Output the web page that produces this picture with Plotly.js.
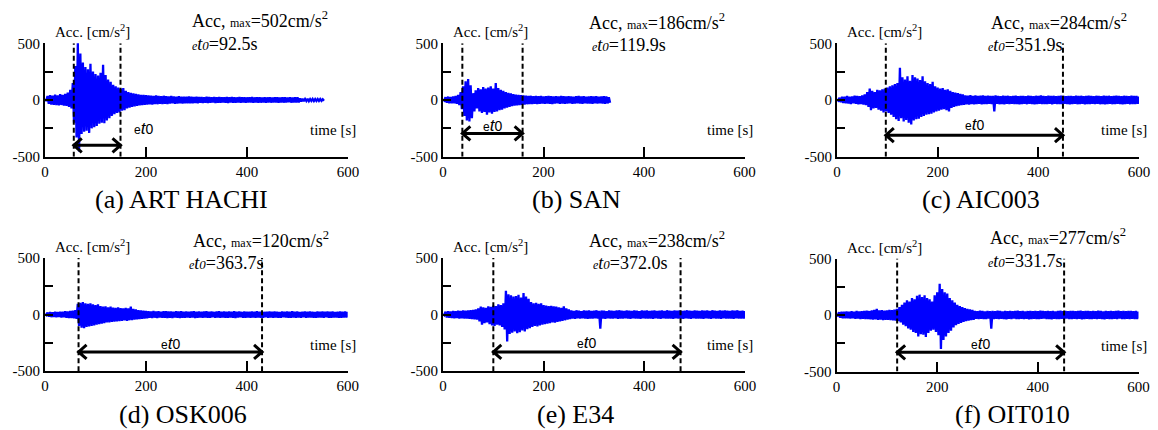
<!DOCTYPE html>
<html><head><meta charset="utf-8">
<script src="https://cdn.plot.ly/plotly-3.0.1.min.js"></script>
<style>html,body{margin:0;padding:0;background:#fff}#chart{width:1158px;height:430px}</style>
</head><body><div id="chart"></div>
<script>
// sampling interval of the envelope values [s]
const dt = 5;

// (a) ART HACHI  envelope (upper / lower), t = 0..550 s
const aUp = [8,35,42,38,48,40,52,45,55,65,90,150,300,502,410,330,290,270,320,250,230,215,240,310,220,180,160,135,120,110,100,105,80,70,62,58,55,50,46,44,42,
 40,38,36,40,35,34,37,33,32,35,31,30,33,29,30,28,31,28,27,29,
 26,27,25,28,26,24,27,25,26,24,25,27,24,26,25,23,26,24,25,23,24,26,23,25,24,22,25,23,24,22,23,25,22,24,23,21,24,22,23,24,
 14,10,9,10,8,9,8,9,8,7];
const aLo = [-8,-33,-40,-42,-45,-48,-44,-50,-52,-60,-75,-200,-330,-455,-300,-280,-270,-290,-250,-240,-230,-210,-200,-205,-180,-160,-140,-125,-115,-110,-95,-90,-75,-68,-60,-56,-52,-48,-45,-42,-40,
 -38,-40,-35,-37,-34,-36,-33,-35,-32,-30,-33,-31,-29,-32,-30,-28,-30,-29,-27,-28,
 -25,-27,-24,-26,-25,-23,-26,-24,-25,-23,-24,-26,-23,-25,-24,-22,-25,-23,-24,-22,-23,-25,-22,-24,-23,-21,-24,-22,-23,-21,-22,-24,-21,-23,-22,-20,-23,-21,-22,-22,
 -13,-10,-9,-10,-8,-9,-8,-8,-7,-6];

// (b) SAN, t = 0..330 s
const bUp = [5,25,30,27,32,35,45,70,120,165,186,130,60,85,105,95,115,100,110,120,100,150,105,90,80,70,62,58,52,48,45,42,40,
 38,35,37,34,36,33,35,32,34,36,33,31,34,32,35,33,31,34,32,30,33,35,31,33,30,32,34,31,33,30,32,34,31,25];
const bLo = [-5,-25,-28,-30,-30,-33,-45,-80,-140,-180,-190,-160,-100,-75,-100,-115,-105,-130,-110,-120,-105,-100,-90,-85,-75,-68,-60,-55,-50,-47,-44,-42,-40,
 -37,-35,-36,-33,-35,-34,-32,-34,-31,-33,-35,-32,-30,-33,-31,-34,-32,-30,-33,-31,-29,-32,-34,-30,-32,-31,-33,-30,-32,-29,-31,-33,-30,-24];

// (c) AIC003, t = 0..600 s
const cUp = [5,20,28,30,35,30,32,38,35,33,40,50,70,100,80,70,90,85,95,100,110,120,130,140,150,284,200,180,210,170,220,200,190,175,210,165,150,140,160,120,110,100,105,90,95,80,70,65,60,55,50,
 40,38,42,36,40,35,38,41,36,39,35,37,40,36,34,38,35,37,33,36,39,34,37,35,33,38,36,34,37,35,40,36,33,38,35,37,34,36,39,35,33,37,36,34,38,35,37,33,36,38,35,34,37,36,33,38,35,37,34,36,39,35,34,37,36,33,38,36,35,30];
const cLo = [-5,-20,-26,-30,-32,-35,-30,-34,-38,-35,-40,-45,-60,-90,-75,-70,-85,-95,-110,-100,-115,-130,-150,-170,-185,-160,-190,-175,-200,-215,-180,-170,-165,-150,-140,-130,-125,-120,-110,-100,-95,-85,-80,-90,-100,-70,-60,-55,-50,-45,-42,
 -38,-40,-35,-39,-36,-34,-38,-35,-37,-33,-36,-100,-34,-37,-35,-38,-33,-36,-34,-37,-35,-38,-36,-34,-37,-33,-36,-38,-35,-34,-37,-35,-36,-34,-38,-33,-36,-35,-37,-34,-36,-38,-35,-33,-37,-36,-34,-38,-35,-37,-33,-36,-34,-37,-35,-38,-36,-34,-37,-35,-33,-36,-38,-35,-34,-37,-36,-35,-33,-28];

// (d) OSK006, t = 0..600 s
const dUp = [5,18,22,20,25,22,24,26,30,28,32,35,40,95,105,110,100,95,100,90,85,90,75,70,72,65,70,62,60,65,58,55,60,55,70,50,45,40,38,35,33,
 30,28,32,27,30,26,29,31,27,28,25,29,27,30,26,28,25,27,29,26,28,25,27,30,26,28,24,27,29,25,28,26,27,25,29,26,28,24,27,26,
 25,28,26,29,25,27,24,26,28,25,27,26,24,28,25,27,26,29,25,27,24,26,28,25,27,26,24,28,25,27,26,28,25,27,24,26,28,25,27,22];
const dLo = [-5,-18,-22,-20,-24,-22,-25,-24,-28,-30,-30,-33,-38,-100,-115,-120,-110,-105,-100,-95,-90,-85,-80,-75,-70,-68,-65,-62,-60,-58,-55,-52,-55,-50,-48,-45,-42,-40,-37,-35,-33,
 -29,-31,-27,-30,-26,-29,-28,-31,-27,-30,-26,-28,-30,-27,-29,-25,-28,-26,-30,-27,-25,-28,-26,-29,-27,-24,-28,-26,-29,-25,-27,-28,-25,-27,-30,-26,-24,-28,-27,-25,
 -28,-26,-29,-25,-27,-28,-24,-27,-26,-29,-25,-27,-28,-24,-26,-29,-27,-25,-28,-26,-27,-24,-28,-26,-25,-29,-27,-25,-26,-28,-24,-27,-29,-25,-26,-28,-27,-25,-26,-22];

// (e) E34, t = 0..600 s
const eUp = [5,25,30,28,32,30,35,33,36,34,38,40,42,45,55,70,65,60,72,68,80,75,90,85,100,210,180,170,160,165,175,150,190,160,140,110,100,105,95,100,85,80,75,78,72,70,65,60,72,55,45,
 36,33,38,35,31,37,34,36,32,35,38,33,36,34,31,37,35,33,36,38,34,32,36,35,33,37,34,31,36,35,38,33,35,37,32,34,36,33,38,35,32,36,34,37,33,35,38,34,32,36,35,33,37,34,36,32,38,35,33,36,34,37,35,32,36,34,38,33,35,30];
const eLo = [-5,-25,-28,-30,-32,-30,-34,-33,-35,-36,-38,-40,-42,-45,-60,-90,-75,-70,-85,-95,-100,-90,-95,-110,-130,-238,-170,-160,-150,-165,-155,-140,-150,-130,-120,-110,-100,-105,-95,-90,-85,-80,-75,-70,-72,-65,-60,-55,-50,-45,-40,
 -34,-37,-33,-36,-32,-35,-38,-34,-36,-33,-35,-125,-34,-37,-33,-36,-35,-32,-37,-34,-36,-33,-35,-38,-32,-36,-34,-37,-33,-35,-36,-34,-38,-33,-35,-37,-32,-36,-34,-35,-37,-33,-36,-34,-38,-32,-35,-37,-33,-36,-34,-35,-37,-33,-36,-38,-32,-35,-34,-37,-33,-36,-35,-34,-37,-33,-36,-35,-34,-28];

// (f) OIT010, t = 0..600 s
const fUp = [5,25,30,28,32,30,33,30,35,32,34,36,38,35,40,45,55,40,42,38,40,45,42,48,55,70,90,110,130,120,150,140,170,180,160,175,150,140,120,175,200,277,230,200,190,150,130,110,90,80,70,60,55,50,45,
 36,33,38,35,32,37,34,36,33,38,35,32,36,34,37,33,35,38,34,36,32,35,37,33,36,34,38,35,33,37,34,36,32,35,38,34,36,33,37,35,33,36,38,34,35,37,33,36,34,38,35,32,37,34,36,33,35,38,34,36,33,37,35,34,36,30];
const fLo = [-5,-25,-28,-30,-30,-32,-30,-33,-32,-35,-33,-35,-36,-38,-40,-38,-42,-40,-45,-42,-44,-46,-48,-50,-55,-65,-85,-100,-120,-130,-150,-160,-190,-170,-175,-195,-160,-140,-130,-150,-180,-300,-220,-190,-160,-140,-110,-90,-80,-70,-60,-55,-50,-45,-42,
 -34,-37,-33,-36,-35,-32,-120,-36,-34,-37,-33,-35,-38,-34,-36,-32,-35,-37,-33,-36,-34,-38,-35,-33,-36,-37,-34,-32,-35,-36,-38,-33,-35,-37,-34,-36,-32,-35,-37,-34,-36,-33,-38,-35,-34,-36,-37,-33,-35,-34,-36,-38,-33,-35,-37,-34,-36,-32,-35,-37,-34,-36,-33,-35,-37,-30];

// station labels and values
const stations = ['(a) ART HACHI','(b) SAN','(c) AIC003','(d) OSK006','(e) E34','(f) OIT010'];
const accMax = [502,186,284,120,238,277];
const et0 = ['92.5','119.9','351.9','363.7','372.0','331.7'];
const tStart = [57,38.5,97,66.5,100,120.5];
const xTicks = [0,200,400,600];
const yTicks = [-500,-250,0,250,500];
const yTickText = ['-500','','0','','500'];

const ups = [aUp,bUp,cUp,dUp,eUp,fUp];
const los = [aLo,bLo,cLo,dLo,eLo,fLo];

// ---------- layout geometry (pixels) ----------
const W = 1158, H = 430;
const px = v => v / W, py = v => 1 - v / H;
const axL = [45,443,837,45,443,836.5];
const axR = [348,744.5,1139,347.7,745,1138.5];
const axT = [43.3,43.3,43.3,258,258,258.5];
const axB = [156.7,156.7,156.7,371.2,371.2,371.5];
const head1 = [[190,20],[587,21],[989,21],[190.5,239],[587,239],[988,237]];
const head2 = [[190,44],[590,45],[986,45],[187,263],[591,263],[986,261]];
const labC = [[181,199],[576,199],[981,199],[183,414],[575,414],[1012,414]];
const arrowY = [-400,-295,-310,-330,-330,-330];
const et0Lab = [[172,-250,'left'],[null,-221,'center'],[null,-220,'center'],[null,-255,'center'],[null,-250,'center'],[null,-250,'center']];

const serif = 'Liberation Serif';
const sans = 'Liberation Sans';

const traces = [];
const layout = {
  width: W, height: H, margin: {l:0,r:0,t:0,b:0},
  paper_bgcolor: '#fff', plot_bgcolor: 'rgba(0,0,0,0)',
  showlegend: false, shapes: [], annotations: [],
  font: {family: serif, color: '#000'}
};

for (let i = 0; i < 6; i++) {
  const sfx = i === 0 ? '' : String(i + 1);
  const xs = [], ys = [];
  for (let k = 0; k < ups[i].length; k++) {
    xs.push(k * dt, k * dt + dt / 2);
    ys.push(ups[i][k], los[i][k]);
  }
  traces.push({x: xs, y: ys, type: 'scatter', mode: 'lines', xaxis: 'x' + sfx, yaxis: 'y' + sfx,
    line: {color: '#0000ff', width: 2.3}, hoverinfo: 'skip'});

  layout['xaxis' + sfx] = {
    domain: [px(axL[i]), px(axR[i])], anchor: 'y' + sfx, range: [0, 600],
    showline: true, linewidth: 2, linecolor: '#000', ticks: 'inside', ticklen: 10, tickwidth: 2, tickcolor: '#000',
    tickvals: xTicks, ticktext: xTicks.map(String), showgrid: false, zeroline: false,
    tickfont: {family: serif, size: 15, color: '#000'}, fixedrange: true
  };
  layout['yaxis' + sfx] = {
    domain: [py(axB[i]), py(axT[i])], anchor: 'x' + sfx, range: [-500, 500],
    showline: true, linewidth: 2, linecolor: '#000', ticks: 'inside', ticklen: 8, tickwidth: 2, tickcolor: '#000',
    tickvals: yTicks, ticktext: yTickText, showgrid: false, zeroline: false,
    tickfont: {family: serif, size: 15, color: '#000'}, fixedrange: true
  };

  const t1 = tStart[i], t2 = tStart[i] + parseFloat(et0[i]);
  const xr = 'x' + sfx, yr = 'y' + sfx;
  // dashed marker lines
  [t1, t2].forEach(t => layout.shapes.push({type: 'line', xref: xr, yref: yr, x0: t, x1: t, y0: -500, y1: 500,
    line: {color: '#000', width: 2, dash: '5px,3px'}}));
  // double-headed arrow with open chevron heads
  const dx = 8 * 600 / (axR[i] - axL[i]);
  const dy = 7 * 1000 / (axB[i] - axT[i]);
  const ay = arrowY[i];
  const path = `M${t1 + dx},${ay + dy} L${t1},${ay} L${t1 + dx},${ay - dy} M${t1},${ay} L${t2},${ay} M${t2 - dx},${ay + dy} L${t2},${ay} L${t2 - dx},${ay - dy}`;
  layout.shapes.push({type: 'path', xref: xr, yref: yr, path: path, line: {color: '#000', width: 3}});

  // et0 label near arrow
  const lab = et0Lab[i];
  layout.annotations.push({xref: xr, yref: yr, x: lab[0] === null ? (t1 + t2) / 2 : lab[0], y: lab[1],
    xanchor: lab[2], yanchor: 'middle', showarrow: false,
    text: '<span style="font-size:12px">e</span><i>t</i><span style="font-size:14px">0</span>',
    font: {family: sans, size: 17, color: '#000'}});

  // axis caption "Acc. [cm/s2]"
  layout.annotations.push({xref: 'paper', yref: 'paper', x: px(axL[i] + 8), y: py(axT[i] - 12),
    xanchor: 'left', yanchor: 'middle', showarrow: false,
    text: 'Acc. [cm/s<sup>2</sup>]', font: {family: serif, size: 15, color: '#000'}});
  // "time [s]"
  layout.annotations.push({xref: 'paper', yref: 'paper', x: px(axR[i] + 10), y: py(axT[i] + 87),
    xanchor: 'right', yanchor: 'middle', showarrow: false,
    text: 'time [s]', font: {family: serif, size: 15, color: '#000'}});
  // header lines
  layout.annotations.push({xref: 'paper', yref: 'paper', x: px(head1[i][0]), y: py(head1[i][1]),
    xanchor: 'left', yanchor: 'middle', showarrow: false,
    text: 'Acc, <span style="font-size:12px">max</span>=' + accMax[i] + 'cm/s<sup>2</sup>',
    font: {family: serif, size: 18, color: '#000'}});
  layout.annotations.push({xref: 'paper', yref: 'paper', x: px(head2[i][0]), y: py(head2[i][1]),
    xanchor: 'left', yanchor: 'middle', showarrow: false,
    text: '<i><span style="font-size:12px">e</span>t<span style="font-size:13px">0</span></i>=' + et0[i] + 's',
    font: {family: serif, size: 18, color: '#000'}});
  // panel label
  layout.annotations.push({xref: 'paper', yref: 'paper', x: px(labC[i][0]), y: py(labC[i][1]),
    xanchor: 'center', yanchor: 'middle', showarrow: false,
    text: stations[i], font: {family: serif, size: 26, color: '#000'}});
}

Plotly.newPlot('chart', traces, layout, {displayModeBar: false, staticPlot: true});
</script>
</body></html>
